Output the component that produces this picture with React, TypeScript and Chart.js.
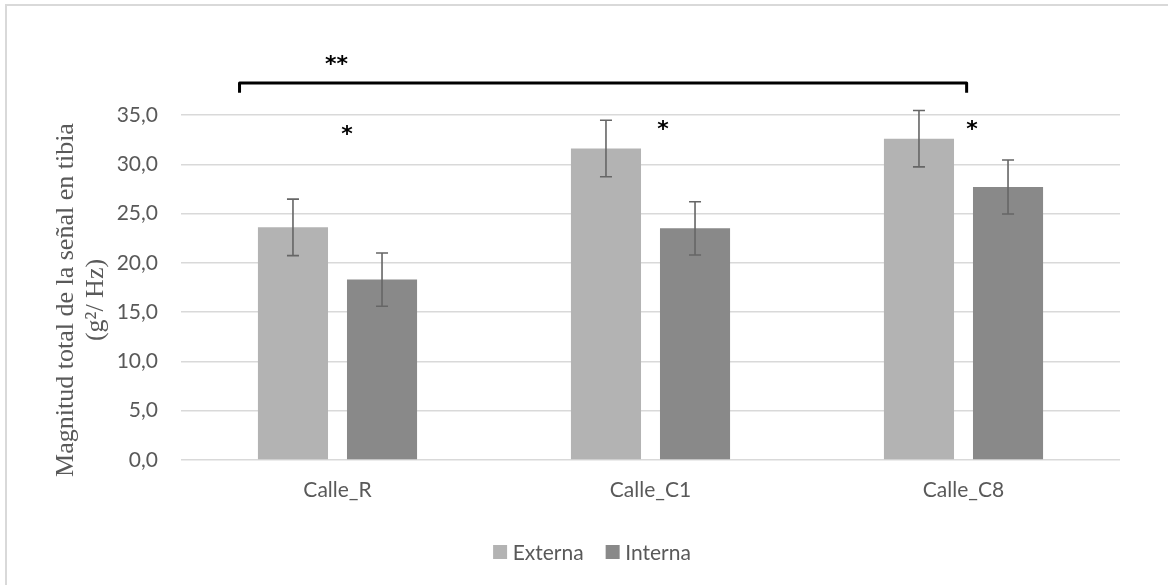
import React, { useEffect, useRef } from "react";
import { Chart, registerables } from "chart.js";

Chart.register(...registerables);

const categories = ["Calle_R", "Calle_C1", "Calle_C8"];
const externa = [23.6, 31.6, 32.6];
const interna = [18.3, 23.5, 27.7];
const externaErr = [2.87, 2.86, 2.86];
const internaErr = [2.7, 2.7, 2.74];
const seriesNames = ["Externa", "Interna"];
const yTitleLines = ["Magnitud total de la señal en tibia", "(g\u00B2/ Hz)"];

// significance marks: category index (fractional) and value
const starLabels = ["**", "*", "*", "*"];
const starX = [-0.003, 0.03, 1.04, 2.027];
const starY = [40.6, 33.5, 34.0, 34.0];
const bracketX = [-0.313, 2.01];
const bracketY = [38.25, 37.25];

const fmt = (v: number) => v.toFixed(1).replace(".", ",");

const errorBarsPlugin = {
  id: "errorBars",
  afterDatasetsDraw(chart: any) {
    const ctx = chart.ctx;
    const y = chart.scales.y;
    ctx.save();
    ctx.strokeStyle = "#666666";
    ctx.lineWidth = 1.6;
    chart.data.datasets.forEach((ds: any, di: number) => {
      const meta = chart.getDatasetMeta(di);
      meta.data.forEach((bar: any, i: number) => {
        const v = ds.data[i];
        const e = ds.errors[i];
        const top = y.getPixelForValue(v + e);
        const bot = y.getPixelForValue(v - e);
        const x = bar.x;
        ctx.beginPath();
        ctx.moveTo(x, top);
        ctx.lineTo(x, bot);
        ctx.moveTo(x - 6, top);
        ctx.lineTo(x + 6, top);
        ctx.moveTo(x - 6, bot);
        ctx.lineTo(x + 6, bot);
        ctx.stroke();
      });
    });
    ctx.restore();
  },
};

const decorPlugin = {
  id: "decor",
  beforeDraw(chart: any) {
    const ctx = chart.ctx;
    ctx.save();
    ctx.fillStyle = "#ffffff";
    ctx.fillRect(0, 0, chart.width, chart.height);
    ctx.strokeStyle = "#d9d9d9";
    ctx.lineWidth = 2;
    ctx.strokeRect(6, 5, chart.width + 20, chart.height + 20);
    ctx.restore();
  },
  afterDraw(chart: any) {
    const ctx = chart.ctx;
    const xs = chart.scales.x;
    const ys = chart.scales.y;
    const step = xs.width / categories.length;
    const px = (f: number) => {
      const i = Math.floor(f + 0.5);
      const base = xs.getPixelForValue(Math.max(0, Math.min(categories.length - 1, i)));
      return base + (f - Math.max(0, Math.min(categories.length - 1, i))) * step;
    };
    ctx.save();
    // y title
    ctx.fillStyle = "#595959";
    ctx.font = '26px "Liberation Serif"';
    ctx.textAlign = "center";
    ctx.textBaseline = "middle";
    const cy = 300;
    const lineX = [66, 96];
    yTitleLines.forEach((t, k) => {
      ctx.save();
      ctx.translate(lineX[k], cy);
      ctx.rotate(-Math.PI / 2);
      ctx.fillText(t, 0, 0);
      ctx.restore();
    });
    // bracket
    const x1 = px(bracketX[0]);
    const x2 = px(bracketX[1]);
    const yb = ys.getPixelForValue(bracketY[0]);
    const yt = ys.getPixelForValue(bracketY[1]);
    ctx.strokeStyle = "#000000";
    ctx.lineWidth = 3;
    ctx.lineJoin = "round";
    ctx.beginPath();
    ctx.moveTo(x1, yt);
    ctx.lineTo(x1, yb);
    ctx.lineTo(x2, yb);
    ctx.lineTo(x2, yt);
    ctx.stroke();
    // stars
    ctx.fillStyle = "#000000";
    ctx.font = 'bold 22px "DejaVu Sans"';
    starLabels.forEach((s, k) => {
      ctx.fillText(s, px(starX[k]), ys.getPixelForValue(starY[k]) + 5);
    });
    // legend
    ctx.font = '21px Lato';
    ctx.textAlign = "left";
    ctx.textBaseline = "middle";
    const box = 14;
    const gap = 5.6;
    const itemGap = 22;
    const ly = 552;
    const widths = chart.data.datasets.map((d: any) => box + gap + ctx.measureText(d.label).width);
    const total = widths.reduce((a: number, b: number) => a + b, 0) + itemGap * (widths.length - 1);
    let lx = 592 - total / 2;
    chart.data.datasets.forEach((d: any, k: number) => {
      ctx.fillStyle = d.backgroundColor;
      ctx.fillRect(lx, ly - box / 2, box, box);
      ctx.fillStyle = "#595959";
      ctx.fillText(d.label, lx + box + gap, ly + 1);
      lx += widths[k] + itemGap;
    });
    ctx.restore();
  },
};

export default function App() {
  const ref = useRef<HTMLCanvasElement>(null);
  useEffect(() => {
    document.body.style.margin = "0";
    const chart = new Chart(ref.current as HTMLCanvasElement, {
      type: "bar",
      data: {
        labels: categories,
        datasets: [
          {
            label: seriesNames[0],
            data: externa,
            errors: externaErr,
            backgroundColor: "#b3b3b3",
            categoryPercentage: 0.569,
            barPercentage: 0.787,
          } as any,
          {
            label: seriesNames[1],
            data: interna,
            errors: internaErr,
            backgroundColor: "#898989",
            categoryPercentage: 0.569,
            barPercentage: 0.787,
          } as any,
        ],
      },
      options: {
        animation: false,
        responsive: false,
        maintainAspectRatio: false,
        layout: { padding: { left: 0, top: 115, right: 48, bottom: 80 } },
        plugins: { legend: { display: false }, tooltip: { enabled: false } },
        scales: {
          x: {
            grid: { display: false, drawTicks: false },
            border: { display: false },
            ticks: { color: "#595959", font: { family: "Lato", size: 21 }, padding: 18 },
            afterFit: (s: any) => {
              s.height = 45;
            },
          },
          y: {
            min: 0,
            max: 35,
            grid: { color: "#d9d9d9", lineWidth: 1.5, drawTicks: false },
            border: { display: false },
            ticks: {
              stepSize: 5,
              color: "#595959",
              font: { family: "Lato", size: 21 },
              padding: 23,
              callback: (v: any) => fmt(Number(v)),
            },
            afterFit: (s: any) => {
              s.width = 181;
            },
          },
        },
      } as any,
      plugins: [errorBarsPlugin, decorPlugin],
    });
    return () => chart.destroy();
  }, []);
  return (
    <div style={{ width: 1168, height: 585 }}>
      <canvas ref={ref} width={1168} height={585} style={{ display: "block" }} />
    </div>
  );
}
